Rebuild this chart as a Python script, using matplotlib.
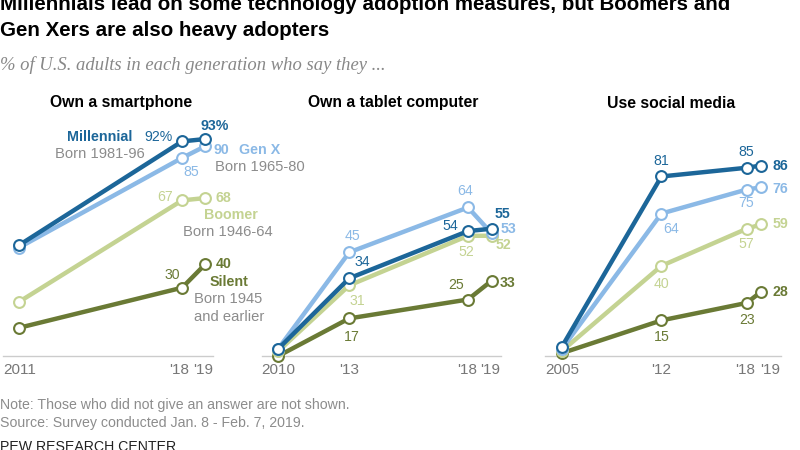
import matplotlib
matplotlib.use("Agg")
import matplotlib.pyplot as plt
from matplotlib.transforms import ScaledTranslation

plt.rcParams['font.family'] = ['Liberation Sans', 'DejaVu Sans']

# Data
generations = ['Silent', 'Boomer', 'Gen X', 'Millennial']
colors = {
    'Millennial': '#1c6699',
    'Gen X': '#8bb9e6',
    'Boomer': '#c4d392',
    'Silent': '#6a7a35',
}

phone_years = [2011, 2018, 2019]
phone_values = {
    'Millennial': [48, 92, 93],
    'Gen X': [47, 85, 90],
    'Boomer': [24, 67, 68],
    'Silent': [13, 30, 40],
}
phone_ticks = [2011, 2018, 2019]
phone_ticklabels = ['2011', "'18", "'19"]

tablet_years = [2010, 2013, 2018, 2019]
tablet_values = {
    'Millennial': [4, 34, 54, 55],
    'Gen X': [4, 45, 64, 53],
    'Boomer': [3, 31, 52, 52],
    'Silent': [1, 17, 25, 33],
}
tablet_ticks = [2010, 2013, 2018, 2019]
tablet_ticklabels = ['2010', "'13", "'18", "'19"]

social_years = [2005, 2012, 2018, 2019]
social_values = {
    'Millennial': [3, 81, 85, 86],
    'Gen X': [2, 64, 75, 76],
    'Boomer': [1, 40, 57, 59],
    'Silent': [0, 15, 23, 28],
}
social_ticks = [2005, 2012, 2018, 2019]
social_ticklabels = ['2005', "'12", "'18", "'19"]

# label offsets in pixels (dx right, dy down) and alignment, per point
phone_labels = {
    'Millennial': [None, (-9, -4, 'right', '92%'), (9, -13, 'center', '93%')],
    'Gen X': [None, (9, 14, 'center', None), (8, 4, 'left', None)],
    'Boomer': [None, (-9, -3, 'right', None), (10, 0, 'left', None)],
    'Silent': [None, (-2, -13, 'right', None), (10, 0, 'left', None)],
}
tablet_labels = {
    'Millennial': [None, (13, -16, 'center', None), (-10, -5, 'right', None), (11, -15, 'center', None)],
    'Gen X': [None, (3, -16, 'center', None), (-3, -16, 'center', None), (9, -4, 'left', None)],
    'Boomer': [None, (8, 16, 'center', None), (-2, 16, 'center', None), (4, 9, 'left', None)],
    'Silent': [None, (3, 19, 'center', None), (-4, -15, 'right', None), (8, 2, 'left', None)],
}
social_labels = {
    'Millennial': [None, (0, -15, 'center', None), (0, -16, 'center', None), (12, 0, 'left', None)],
    'Gen X': [None, (10, 15, 'center', None), (0, 13, 'center', None), (12, 2, 'left', None)],
    'Boomer': [None, (0, 18, 'center', None), (0, 15, 'center', None), (12, 0, 'left', None)],
    'Silent': [None, (0, 17, 'center', None), (0, 17, 'center', None), (12, 0, 'left', None)],
}

W, H = 800, 450
fig = plt.figure(figsize=(8, 4.5), dpi=100)


def px_axes(left, right, top, bottom):
    return fig.add_axes([left / W, 1 - bottom / H, (right - left) / W, (bottom - top) / H])


def draw_panel(ax, years, values, labels, ticks, ticklabels, xlim, ylim, tick_shift=None):
    for g in generations:
        ax.plot(years, values[g], color=colors[g], lw=3.2, marker='o', ms=7.8,
                mfc='white', mec=colors[g], mew=1.5, solid_capstyle='round',
                clip_on=False, zorder=3)
        for i, lab in enumerate(labels[g]):
            if lab is None:
                continue
            dx, dy, ha, txt = lab
            last = i == len(years) - 1
            if txt is None:
                txt = str(values[g][i])
            ax.annotate(txt, (years[i], values[g][i]), xytext=(dx * 0.72, -dy * 0.72),
                        textcoords='offset points', ha=ha, va='center',
                        fontsize=10.2, color=colors[g],
                        fontweight='bold' if last else 'normal', zorder=4)
    ax.set_xlim(*xlim)
    ax.set_ylim(*ylim)
    ax.set_xticks(ticks, ticklabels)
    ax.tick_params(axis='x', length=0, pad=5, labelsize=11, labelcolor='#777777')
    if tick_shift:
        for lbl, sh in zip(ax.get_xticklabels(), tick_shift):
            lbl.set_transform(lbl.get_transform() + ScaledTranslation(sh / 100, 0, fig.dpi_scale_trans))
    ax.set_yticks([])
    for s in ['top', 'right', 'left']:
        ax.spines[s].set_visible(False)
    ax.spines['bottom'].set_color('#cccccc')
    ax.spines['bottom'].set_linewidth(1)
    ax.patch.set_alpha(0)


ax1 = px_axes(3, 213, 120, 356)
draw_panel(ax1, phone_years, phone_values, phone_labels, phone_ticks, phone_ticklabels,
           (2010.313, 2019.326), (1.06, 101.06), tick_shift=[1, -3, -2])
ax2 = px_axes(262, 501, 120, 356)
draw_panel(ax2, tablet_years, tablet_values, tablet_labels, tablet_ticks, tablet_ticklabels,
           (2009.326, 2019.389), (1.06, 101.06), tick_shift=[0, 0, -1, -2])
ax3 = px_axes(545, 781, 120, 356)
draw_panel(ax3, social_years, social_values, social_labels, social_ticks, social_ticklabels,
           (2003.803, 2020.423), (-1.33, 106.9), tick_shift=[0, 0, -1, 9])


def ftext(x, y, s, **kw):
    fig.text(x / W, 1 - y / H, s, va='center', **kw)


# panel titles
ftext(121, 103, 'Own a smartphone', ha='center', fontsize=11.3, fontweight='bold')
ftext(393, 103, 'Own a tablet computer', ha='center', fontsize=11.3, fontweight='bold')
ftext(671, 103, 'Use social media', ha='center', fontsize=11.3, fontweight='bold')

# generation labels
gray = '#8c8c8c'
ftext(100, 137, 'Millennial', ha='center', fontsize=10.3, fontweight='bold', color=colors['Millennial'])
ftext(100, 154, 'Born 1981-96', ha='center', fontsize=10.6, color=gray)
ftext(239, 150, 'Gen X', ha='left', fontsize=10.3, fontweight='bold', color=colors['Gen X'])
ftext(215, 167, 'Born 1965-80', ha='left', fontsize=10.6, color=gray)
ftext(204, 215, 'Boomer', ha='left', fontsize=10.3, fontweight='bold', color=colors['Boomer'])
ftext(183, 232, 'Born 1946-64', ha='left', fontsize=10.6, color=gray)
ftext(210, 282, 'Silent', ha='left', fontsize=10.3, fontweight='bold', color=colors['Silent'])
ftext(194, 299, 'Born 1945', ha='left', fontsize=10.6, color=gray)
ftext(194, 317, 'and earlier', ha='left', fontsize=10.6, color=gray)

# title, subtitle and notes
ftext(0, 5, 'Millennials lead on some technology adoption measures, but Boomers and',
      ha='left', fontsize=14.8, fontweight='bold')
ftext(0, 30, 'Gen Xers are also heavy adopters', ha='left', fontsize=14.8, fontweight='bold')
ftext(0, 65, '% of U.S. adults in each generation who say they ...', ha='left', fontsize=13.4,
      style='italic', color='#888888', family=['Liberation Serif', 'DejaVu Serif'])
ftext(0, 405, 'Note: Those who did not give an answer are not shown.', ha='left', fontsize=10.2, color=gray)
ftext(0, 423, 'Source: Survey conducted Jan. 8 - Feb. 7, 2019.', ha='left', fontsize=10.2, color=gray)
ftext(0, 447, 'PEW RESEARCH CENTER', ha='left', fontsize=10.2, color='#222222')

fig.savefig('out.png', dpi=100)
